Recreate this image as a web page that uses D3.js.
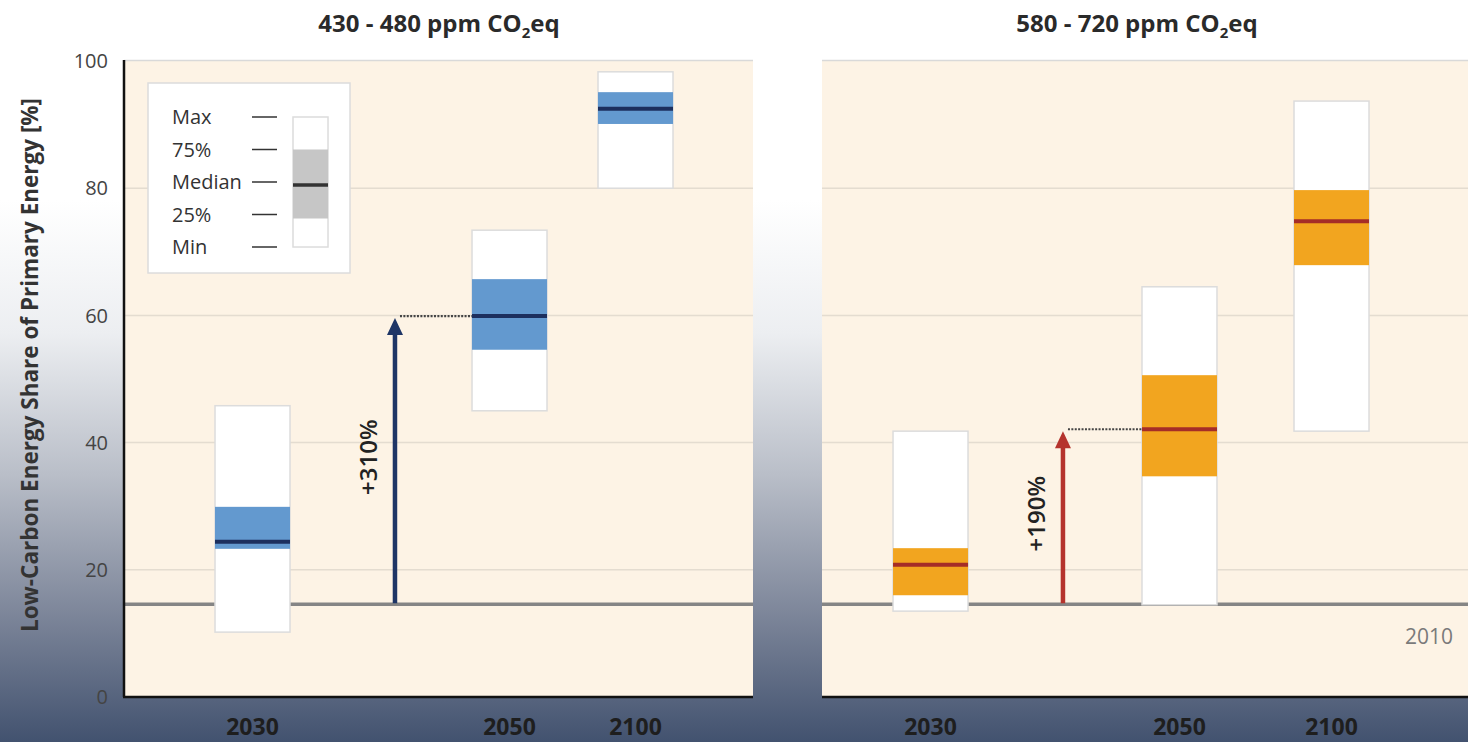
<!DOCTYPE html>
<html>
<head>
<meta charset="utf-8">
<script src="https://cdn.jsdelivr.net/npm/d3@7"></script>
<style>
  html, body { margin: 0; padding: 0; background: #fff; }
  svg { display: block; }
  text { font-family: "Open Sans", "Noto Sans", "DejaVu Sans", sans-serif; }
</style>
</head>
<body>
<svg id="chart" width="1468" height="742"></svg>
<script>
// Time horizons shown in each panel
const years = ["2030", "2050", "2100"];
const yTicks = [0, 20, 40, 60, 80, 100];

// Low-carbon share of primary energy in 2010 (%)
const share2010 = 14.6;

// 430 - 480 ppm CO2eq scenarios: distribution of low-carbon share (%)
const lowMin    = [10.2, 45.0, 80.0];
const lowQ1     = [23.3, 54.6, 90.1];
const lowMedian = [24.4, 59.9, 92.5];
const lowQ3     = [29.9, 65.7, 95.1];
const lowMax    = [45.8, 73.4, 98.3];

// 580 - 720 ppm CO2eq scenarios
const highMin    = [13.5, 14.5, 41.8];
const highQ1     = [16.0, 34.7, 67.9];
const highMedian = [20.8, 42.1, 74.8];
const highQ3     = [23.4, 50.6, 79.7];
const highMax    = [41.8, 64.5, 93.7];

// Scenario names (CO2 subscript handled separately) and 2050 increase labels
const scenarioNames = ["430 - 480 ppm CO", "580 - 720 ppm CO"];
const increaseLabels = ["+310%", "+190%"];
const legendRows = ["Max", "75%", "Median", "25%", "Min"];

// ---- layout ----
const svg = d3.select("#chart");
const W = 1468, H = 742;
const plotTop = 61, plotBottom = 697;
const boxW = 75;

const y = d3.scaleLinear().domain([0, 100]).range([plotBottom, plotTop]);

const panels = [
  {
    x0: 124, x1: 753, titleX: 439,
    centers: {"2030": 0.2043, "2050": 0.6129, "2100": 0.8132}, arrowAt: 0.4308,
    min: lowMin, q1: lowQ1, med: lowMedian, q3: lowQ3, max: lowMax,
    fill: "#6399cf", medColor: "#1c2f5e", arrowColor: "#1e3566",
    name: scenarioNames[0], inc: increaseLabels[0], axis: true, show2010: false
  },
  {
    x0: 822, x1: 1468, titleX: 1137,
    centers: {"2030": 0.168, "2050": 0.5534, "2100": 0.7887}, arrowAt: 0.373,
    min: highMin, q1: highQ1, med: highMedian, q3: highQ3, max: highMax,
    fill: "#f2a51f", medColor: "#a52d27", arrowColor: "#b5332d",
    name: scenarioNames[1], inc: increaseLabels[1], axis: false, show2010: true
  }
];

// ---- background gradient ----
const defs = svg.append("defs");
const grad = defs.append("linearGradient").attr("id", "bg")
  .attr("x1", 0).attr("y1", 0).attr("x2", 0).attr("y2", 1);
[[0, "#ffffff"], [0.27, "#ffffff"], [0.45, "#eceef1"], [0.64, "#b9bec8"],
 [0.83, "#7c8599"], [1, "#42526f"]].forEach(([o, c]) =>
  grad.append("stop").attr("offset", o).attr("stop-color", c));
svg.append("rect").attr("width", W).attr("height", H).attr("fill", "url(#bg)");

// ---- y axis title ----
svg.append("text")
  .attr("transform", `translate(38,365) rotate(-90)`)
  .attr("text-anchor", "middle")
  .attr("font-size", 22.5).attr("font-weight", 700).attr("fill", "#333")
  .text("Low-Carbon Energy Share of Primary Energy [%]");

// ---- y tick labels ----
svg.append("g").selectAll("text").data(yTicks).join("text")
  .attr("x", 108).attr("y", d => y(d))
  .attr("dy", "0.36em").attr("text-anchor", "end")
  .attr("font-size", 20).attr("fill", "#444")
  .text(d => d);

panels.forEach((p) => {
  const px = d3.scaleLinear().domain([0, 1]).range([p.x0, p.x1]);
  const xc = yr => px(p.centers[yr]);
  const g = svg.append("g");

  // panel background
  g.append("rect").attr("x", p.x0).attr("y", plotTop)
    .attr("width", p.x1 - p.x0).attr("height", plotBottom - plotTop)
    .attr("fill", "#fdf3e5");
  g.append("line").attr("x1", p.x0).attr("x2", p.x1)
    .attr("y1", plotTop - 0.5).attr("y2", plotTop - 0.5)
    .attr("stroke", "#d9d9d9").attr("stroke-width", 1.5);

  // gridlines
  g.append("g").selectAll("line").data(yTicks.filter(t => t > 0 && t < 100)).join("line")
    .attr("x1", p.x0).attr("x2", p.x1)
    .attr("y1", d => y(d)).attr("y2", d => y(d))
    .attr("stroke", "#e4dcd0").attr("stroke-width", 1.5);

  // 2010 reference line
  g.append("line").attr("x1", p.x0).attr("x2", p.x1)
    .attr("y1", y(share2010)).attr("y2", y(share2010))
    .attr("stroke", "#858585").attr("stroke-width", 3.5);
  if (p.show2010) {
    g.append("text").attr("x", 1453).attr("y", y(share2010) + 40)
      .attr("text-anchor", "end").attr("font-size", 21).attr("fill", "#7a7a7a")
      .text("2010");
  }

  // boxes: min-max white, interquartile coloured, median line
  const boxes = g.append("g").selectAll("g").data(years).join("g");
  boxes.append("rect")
    .attr("x", d => xc(d) - boxW / 2).attr("width", boxW)
    .attr("y", (d, i) => y(p.max[i]))
    .attr("height", (d, i) => y(p.min[i]) - y(p.max[i]))
    .attr("fill", "#fff").attr("stroke", "#dcdcdc").attr("stroke-width", 1.5);
  boxes.append("rect")
    .attr("x", d => xc(d) - boxW / 2).attr("width", boxW)
    .attr("y", (d, i) => y(p.q3[i]))
    .attr("height", (d, i) => y(p.q1[i]) - y(p.q3[i]))
    .attr("fill", p.fill);
  boxes.append("line")
    .attr("x1", d => xc(d) - boxW / 2).attr("x2", d => xc(d) + boxW / 2)
    .attr("y1", (d, i) => y(p.med[i])).attr("y2", (d, i) => y(p.med[i]))
    .attr("stroke", p.medColor).attr("stroke-width", 4);

  // arrow from 2010 level up to the 2050 median
  const ax = px(p.arrowAt);
  const m2050 = p.med[years.indexOf("2050")];
  const tipY = y(m2050) + 2;
  g.append("line").attr("x1", ax).attr("x2", ax)
    .attr("y1", y(share2010) - 1).attr("y2", tipY + 12)
    .attr("stroke", p.arrowColor).attr("stroke-width", 4.5);
  g.append("path")
    .attr("d", `M${ax},${tipY} L${ax - 8},${tipY + 17} L${ax + 8},${tipY + 17} Z`)
    .attr("fill", p.arrowColor);
  g.append("line")
    .attr("x1", ax + 5).attr("x2", xc("2050") - boxW / 2)
    .attr("y1", y(m2050)).attr("y2", y(m2050))
    .attr("stroke", "#444").attr("stroke-width", 2.2)
    .attr("stroke-dasharray", "2,1.4");
  g.append("text")
    .attr("transform", `translate(${ax - 18},${(y(share2010) + tipY) / 2 - 4}) rotate(-90)`)
    .attr("text-anchor", "middle")
    .attr("font-size", 24).attr("font-weight", 600).attr("fill", "#222")
    .text(p.inc);

  // axis lines
  if (p.axis) {
    g.append("line").attr("x1", p.x0).attr("x2", p.x0)
      .attr("y1", plotTop - 1).attr("y2", plotBottom)
      .attr("stroke", "#111").attr("stroke-width", 2.5);
  }
  g.append("line").attr("x1", p.x0 - (p.axis ? 1 : 0)).attr("x2", p.x1)
    .attr("y1", plotBottom).attr("y2", plotBottom)
    .attr("stroke", "#111").attr("stroke-width", 2.5);

  // category labels
  g.append("g").selectAll("text").data(years).join("text")
    .attr("x", d => xc(d)).attr("y", 735)
    .attr("text-anchor", "middle")
    .attr("font-size", 23).attr("font-weight", 700).attr("fill", "#1e1e1e")
    .text(d => d);

  // scenario title with subscript
  const t = svg.append("text").attr("x", p.titleX).attr("y", 32)
    .attr("text-anchor", "middle").attr("font-size", 24)
    .attr("font-weight", 700).attr("fill", "#2a2a2a");
  t.append("tspan").text(p.name);
  t.append("tspan").attr("font-size", 15).attr("dy", 6).text("2");
  t.append("tspan").attr("dy", -6).text("eq");
});

// ---- legend ----
const lg = svg.append("g");
lg.append("rect").attr("x", 148).attr("y", 83).attr("width", 202).attr("height", 190)
  .attr("fill", "#fff").attr("stroke", "#dcdcdc").attr("stroke-width", 1.5);
const ly = d3.scalePoint().domain(legendRows).range([117, 247]);
lg.selectAll("text.lab").data(legendRows).join("text").attr("class", "lab")
  .attr("x", 172).attr("y", d => ly(d)).attr("dy", "0.36em")
  .attr("font-size", 20).attr("fill", "#333").text(d => d);
lg.selectAll("line.dash").data(legendRows).join("line").attr("class", "dash")
  .attr("x1", 252).attr("x2", 277)
  .attr("y1", d => ly(d)).attr("y2", d => ly(d))
  .attr("stroke", "#333").attr("stroke-width", 1.5);
lg.append("rect").attr("x", 293).attr("y", ly("Max")).attr("width", 35)
  .attr("height", ly("Min") - ly("Max"))
  .attr("fill", "#fff").attr("stroke", "#dcdcdc").attr("stroke-width", 1.5);
lg.append("rect").attr("x", 293).attr("y", ly("75%")).attr("width", 35)
  .attr("height", ly("25%") - ly("75%") + 4).attr("fill", "#c6c6c6");
lg.append("line").attr("x1", 293).attr("x2", 328)
  .attr("y1", ly("Median") + 3).attr("y2", ly("Median") + 3)
  .attr("stroke", "#333").attr("stroke-width", 3.5);
</script>
</body>
</html>
